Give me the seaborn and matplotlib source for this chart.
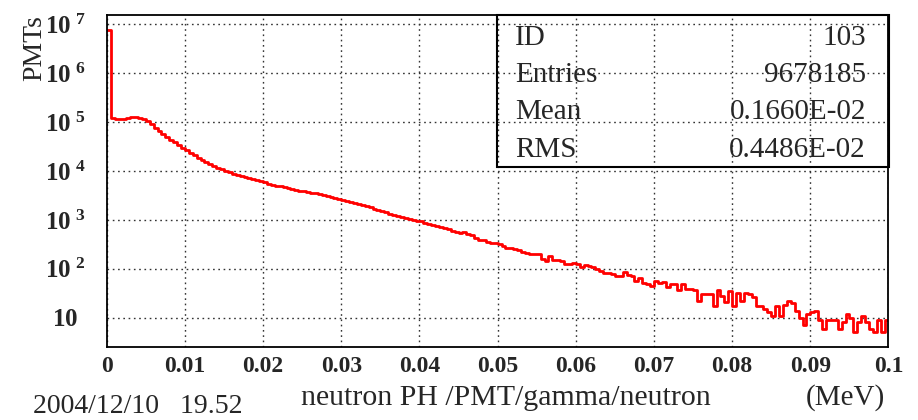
import numpy as np
import pandas as pd
import matplotlib
matplotlib.use("Agg")
import matplotlib.pyplot as plt
from matplotlib.ticker import FixedLocator, FixedFormatter, LogLocator, NullFormatter, MultipleLocator
from matplotlib.patches import Rectangle
import seaborn as sns

# ---- data ----
x_min, x_max, n_bins = 0.0, 0.1, 200
counts = [
    7.6e6, 1.21e5, 1.17e5, 1.15e5, 1.17e5, 1.21e5, 1.25e5, 1.27e5, 1.24e5, 1.17e5,
    1.04e5, 9.0e4, 7.65e4, 6.6e4, 5.77e4, 5.0e4, 4.35e4, 3.87e4, 3.44e4, 2.99e4,
    2.66e4, 2.36e4, 2.10e4, 1.87e4, 1.70e4, 1.55e4, 1.41e4, 1.28e4, 1.17e4, 1.09e4,
    1.01e4, 9460, 8810, 8210, 7830, 7470, 7130, 6800, 6490, 6190,
    5900, 5500, 5130, 5010, 4900, 4780, 4560, 4350, 4150, 3960,
    3870, 3780, 3610, 3520, 3440, 3280, 3130, 2990, 2850, 2720,
    2600, 2480, 2360, 2250, 2150, 2050, 1910, 1830, 1700, 1620,
    1550, 1440, 1350, 1280, 1200, 1140, 1090, 1040, 1010, 968,
    946, 881, 840, 802, 766, 730, 687, 649, 605, 577,
    543, 564, 525, 490, 436, 396, 387, 361, 344, 336,
    321, 292, 272, 268, 260, 242, 225, 210, 202, 202,
    205, 162, 148, 187, 151, 155, 143, 128, 126, 133,
    128, 110, 122, 117, 111, 97, 92, 83, 82, 79,
    71, 73, 85, 74, 73, 56, 66, 52, 50, 44,
    56, 52, 54, 42, 48, 48, 37, 49, 39, 39,
    37, 22, 31, 30, 30, 17, 37, 28, 21, 35,
    17, 32, 22, 32, 31, 26, 17, 17, 15, 13,
    11, 17, 11, 18, 22, 20, 14, 10, 7, 12,
    13, 14, 9, 6, 9, 9, 9, 6, 8, 12,
    10, 5, 8, 11, 8, 6, 5, 9, 5, 9,
]
x_ticks = [0, 0.01, 0.02, 0.03, 0.04, 0.05, 0.06, 0.07, 0.08, 0.09, 0.1]
x_tick_labels = ["0", "0.01", "0.02", "0.03", "0.04", "0.05", "0.06", "0.07", "0.08", "0.09", "0.1"]
y_ticks = [10, 1e2, 1e3, 1e4, 1e5, 1e6, 1e7]
y_exponents = [1, 2, 3, 4, 5, 6, 7]
stats_names = ["ID", "Entries", "Mean", "RMS"]
stats_values = ["103", "9678185", "0.1660E-02", "0.4486E-02"]
x_label = "neutron PH /PMT/gamma/neutron"
x_unit = "(MeV)"
y_label = "PMTs"
date_text = "2004/12/10   19.52"

bin_w = (x_max - x_min) / n_bins
centers = x_min + bin_w * (np.arange(n_bins) + 0.5)
df = pd.DataFrame({"x": centers, "w": np.asarray(counts, dtype=float)})

# ---- style ----
sns.set_style("white")
plt.rcParams["font.family"] = ["Liberation Serif", "DejaVu Serif"]
plt.rcParams["mathtext.fontset"] = "custom"
plt.rcParams["mathtext.rm"] = "Liberation Serif"
plt.rcParams["mathtext.bf"] = "Liberation Serif:bold"
plt.rcParams["mathtext.it"] = "Liberation Serif:italic"

W, H = 918, 420
fig = plt.figure(figsize=(W / 100, H / 100), dpi=100)
L, R, T, B = 106.7, 888.5, 15.0, 346.7
ax = fig.add_axes([L / W, 1 - B / H, (R - L) / W, (B - T) / H])

sns.histplot(data=df, x="x", weights="w", bins=n_bins, binrange=(x_min, x_max),
             element="step", fill=False, color="#ff0000", linewidth=2.0, ax=ax)
ax.set_yscale("log")
ax.set_xlim(x_min, x_max)
ax.set_ylim(2.56, 1.55e7)

ax.xaxis.set_major_locator(FixedLocator(x_ticks))
ax.xaxis.set_major_formatter(FixedFormatter(x_tick_labels))
ax.xaxis.set_minor_locator(MultipleLocator(0.002))
ylabels = ["$\\mathbf{10}$" if e == 1 else "$\\mathbf{10}\\;{}^{\\mathbf{%d}}$" % e for e in y_exponents]
ax.yaxis.set_major_locator(FixedLocator(y_ticks))
ax.yaxis.set_major_formatter(FixedFormatter(ylabels))
ax.yaxis.set_minor_locator(LogLocator(base=10, subs=np.arange(2, 10), numticks=20))
ax.yaxis.set_minor_formatter(NullFormatter())

ax.tick_params(axis="both", which="major", direction="in", length=15, width=1.2,
               color="black", top=False, right=False)
ax.tick_params(axis="both", which="minor", direction="in", length=7, width=1.0,
               color="#333333", top=False, right=False)
ax.tick_params(axis="x", which="major", pad=7, labelsize=17)
ax.tick_params(axis="y", which="major", pad=30, labelsize=18)
for lab in ax.get_xticklabels():
    lab.set_fontweight("bold")
for lab in ax.get_yticklabels():
    lab.set_horizontalalignment("center")

ax.grid(True, which="major", linestyle=(0, (1.2, 2.6)), color="#333333", linewidth=1.0)
for s in ax.spines.values():
    s.set_visible(True)
    s.set_color("black")
    s.set_linewidth(1.3)
ax.set_xlabel("")
ax.set_ylabel("")

# stats box (transparent, grid shows through)
bx0, bx1, by0, by1 = 497.0, R, T, 167.0
fig.patches.append(Rectangle((bx0 / W, 1 - by1 / H), (bx1 - bx0) / W, (by1 - by0) / H,
                             transform=fig.transFigure, fill=False, edgecolor="black",
                             linewidth=1.5, zorder=5))
rows_base = [45, 82, 119, 157]
for name, val, yy in zip(stats_names, stats_values, rows_base):
    fig.text(515 / W, 1 - yy / H, name, ha="left", va="baseline", fontsize=21)
    fig.text(866 / W, 1 - yy / H, val, ha="right", va="baseline", fontsize=21)

fig.text(35 / W, 1 - 15 / H, y_label, rotation=90, ha="center", va="top", fontsize=20)
fig.text(506 / W, 1 - 405 / H, x_label, ha="center", va="baseline", fontsize=21.5)
fig.text(885 / W, 1 - 405 / H, x_unit, ha="right", va="baseline", fontsize=21)
fig.text(33 / W, 1 - 413 / H, date_text, ha="left", va="baseline", fontsize=20)

fig.savefig("out.png", dpi=100)
